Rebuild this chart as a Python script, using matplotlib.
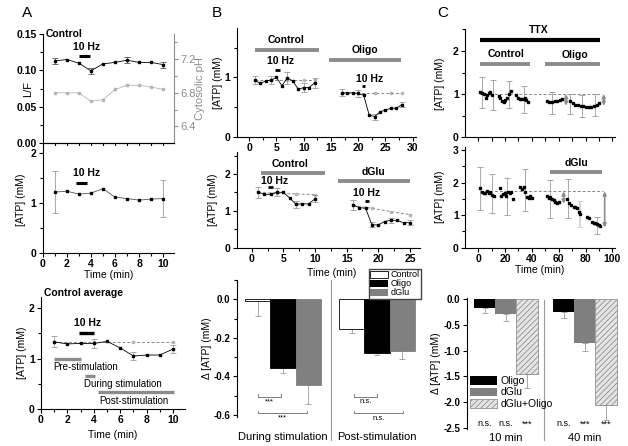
import matplotlib
matplotlib.use("Agg")
import matplotlib.pyplot as plt
from matplotlib.patches import Patch
from matplotlib.ticker import MultipleLocator, NullFormatter

plt.rcParams["font.family"] = ["Liberation Sans", "DejaVu Sans"]
plt.rcParams["font.size"] = 7.5
plt.rcParams["hatch.linewidth"] = 0.5

GRAY = "#8c8c8c"
LGRAY = "#b4b4b4"
EGRAY = "#9a9a9a"

# ---------------- data: panel A ----------------
a_t = [1, 2, 3, 4, 5, 6, 7, 8, 9, 10]
a_lf = [0.113, 0.115, 0.110, 0.0995, 0.109, 0.111, 0.114, 0.111, 0.111, 0.108]
a_lf_err_t = [1, 4, 7, 10]
a_lf_err_v = [0.113, 0.0995, 0.114, 0.108]
a_lf_err = [0.004, 0.004, 0.004, 0.004]
a_ph = [6.80, 6.80, 6.80, 6.70, 6.72, 6.84, 6.89, 6.89, 6.87, 6.84]

a_atp = [1.22, 1.24, 1.18, 1.20, 1.29, 1.12, 1.09, 1.06, 1.08, 1.09]
a_atp_err_t = [1, 10]
a_atp_err_v = [1.22, 1.09]
a_atp_err = [0.42, 0.38]

a_avg = [1.33, 1.29, 1.30, 1.30, 1.34, 1.21, 1.05, 1.07, 1.07, 1.19]
a_avg_err_t = [1, 4, 7, 10]
a_avg_err_v = [1.33, 1.30, 1.05, 1.19]
a_avg_err = [0.11, 0.09, 0.08, 0.08]
a_avg_ref_t = [1, 4, 7, 10]
a_avg_ref = [1.32, 1.32, 1.32, 1.32]

# ---------------- data: panel B ----------------
b1_ctrl_t = [1, 2, 3, 4, 5, 6, 7, 8, 9, 10, 11, 12]
b1_ctrl = [0.955, 0.90, 0.94, 0.955, 1.0, 0.86, 0.995, 0.94, 0.80, 0.83, 0.83, 0.91]
b1_ctrl_ref_t = [1, 4, 7, 10, 12]
b1_ctrl_ref = [0.96, 0.96, 0.96, 0.96, 0.96]
b1_ctrl_err_t = [1, 4, 7, 10, 12]
b1_ctrl_err_v = [0.955, 0.955, 0.995, 0.83, 0.91]
b1_ctrl_err = [0.07, 0.07, 0.10, 0.08, 0.08]

b1_oli_t = [17, 18, 19, 20, 21, 22, 23, 24, 25, 26, 27, 28]
b1_oli = [0.74, 0.74, 0.74, 0.73, 0.70, 0.37, 0.34, 0.42, 0.45, 0.48, 0.48, 0.54]
b1_oli_ref_t = [17, 20, 23, 26, 28]
b1_oli_ref = [0.735, 0.735, 0.735, 0.735, 0.735]
b1_oli_err_t = [17, 20, 23, 28]
b1_oli_err_v = [0.74, 0.73, 0.34, 0.54]
b1_oli_err = [0.06, 0.06, 0.05, 0.04]

b2_ctrl_t = [1, 2, 3, 4, 5, 6, 7, 8, 9, 10]
b2_ctrl = [1.51, 1.45, 1.45, 1.51, 1.50, 1.35, 1.18, 1.19, 1.19, 1.33]
b2_ctrl_ref_t = [1, 4, 7, 10]
b2_ctrl_ref = [1.50, 1.48, 1.46, 1.44]
b2_ctrl_err = [0.15, 0.10, 0.10, 0.10]
b2_ctrl_err_v = [1.51, 1.51, 1.18, 1.33]

b2_glu_t = [16, 17, 18, 19, 20, 21, 22, 23, 24, 25]
b2_glu = [1.16, 1.09, 1.07, 0.62, 0.62, 0.71, 0.75, 0.74, 0.68, 0.68]
b2_glu_ref_t = [16, 19, 22, 25]
b2_glu_ref = [1.15, 1.07, 0.98, 0.90]
b2_glu_err = [0.13, 0.07, 0.07, 0.07]
b2_glu_err_v = [1.16, 0.62, 0.75, 0.68]

b3_ctrl = [-0.01, -0.155]
b3_oli = [-0.355, -0.28]
b3_glu = [-0.445, -0.27]
b3_ctrl_err = [0.075, 0.02]
b3_oli_err = [0.025, 0.01]
b3_glu_err = [0.10, 0.04]
b3_groups = ["During stimulation", "Post-stimulation"]

# ---------------- data: panel C ----------------
c1_t = [1.5, 2.8, 4.5, 5.7, 6.5, 7.8, 9.0, 10.2,
        15.2, 16.4, 17.7, 18.9, 20.1, 21.4, 22.7, 24.6,
        28.4, 29.6, 30.9, 32.1, 33.4, 34.6, 35.8, 37.1,
        51.3, 53.0, 55.0, 57.0, 59.0, 61.0, 62.5,
        68.7, 70.4, 72.4, 74.4, 76.4, 78.4, 80.4, 82.4, 84.3, 86.3, 88.3, 89.8]
c1_v = [1.04, 1.02, 1.00, 0.90, 0.98, 1.02, 1.04, 0.98,
        0.95, 0.90, 0.85, 0.82, 0.87, 0.92, 1.00, 1.08,
        0.97, 0.90, 0.88, 0.89, 0.88, 0.90, 0.87, 0.82,
        0.83, 0.82, 0.82, 0.83, 0.84, 0.86, 0.88,
        0.85, 0.79, 0.75, 0.74, 0.73, 0.72, 0.71, 0.71, 0.71, 0.72, 0.75, 0.80]
c1_err_t = [2.8, 10.7, 22.7, 33.9, 55.0, 68.7, 77.4, 87.3]
c1_err_v = [1.03, 0.985, 0.99, 0.875, 0.795, 0.775, 0.72, 0.75]
c1_err = [0.36, 0.345, 0.32, 0.305, 0.265, 0.225, 0.26, 0.25]
c1_ref = 1.0

c2_t = [1.5, 2.8, 4.0, 5.2, 6.5, 7.8, 9.0, 10.2, 11.5,
        16.4, 17.2, 18.2, 19.7, 20.7, 22.2, 23.4, 24.6, 25.7,
        31.3, 32.6, 33.9, 35.1, 36.3, 37.6, 38.8, 40.1,
        51.3, 52.5, 53.7, 55.0, 56.3, 57.5, 58.7, 60.0,
        66.2, 67.9, 69.4, 71.2, 72.4, 73.7, 74.9, 76.1,
        81.1, 82.4, 84.9, 86.1, 87.3, 88.6, 89.8, 91.0]
c2_v = [1.82, 1.72, 1.67, 1.69, 1.74, 1.67, 1.70, 1.62, 1.58,
        1.82, 1.58, 1.64, 1.67, 1.58, 1.70, 1.67, 1.72, 1.48,
        1.85, 1.79, 1.87, 1.72, 1.56, 1.53, 1.58, 1.54,
        1.58, 1.54, 1.56, 1.51, 1.46, 1.41, 1.38, 1.41,
        1.51, 1.36, 1.31, 1.26, 1.26, 1.21, 1.10, 1.03,
        0.95, 0.90, 0.80, 0.75, 0.77, 0.73, 0.70, 0.67]
c2_err_t = [1.5, 10.2, 21.4, 35.1, 53.7, 66.9, 76.1, 88.6]
c2_err_v = [1.82, 1.655, 1.565, 1.775, 1.49, 1.50, 1.04, 0.675]
c2_err = [0.66, 0.605, 0.565, 0.655, 0.59, 0.60, 0.40, 0.255]
c2_ref = 1.73

c3_oli = [-0.17, -0.24]
c3_glu = [-0.28, -0.85]
c3_both = [-1.45, -2.05]
c3_oli_err = [0.10, 0.13]
c3_glu_err = [0.14, 0.15]
c3_both_err = [0.27, 0.30]
c3_groups = ["10 min", "40 min"]
c3_sig = ["n.s.", "n.s.", "***", "n.s.", "***", "***"]


def px_axes(fig, x0, y0, x1, y1):
    W, H = 628.0, 446.0
    return fig.add_axes([x0 / W, 1 - y1 / H, (x1 - x0) / W, (y1 - y0) / H])


def style(ax):
    ax.spines["top"].set_visible(False)
    ax.spines["right"].set_visible(False)
    for s in ax.spines.values():
        s.set_linewidth(0.8)
    ax.tick_params(which="major", direction="out", length=3, width=0.8, labelsize=7.5, pad=1.5)
    ax.tick_params(which="minor", direction="out", length=2, width=0.8)


def errs(ax, t, v, e, color=EGRAY, lw=0.6):
    ax.errorbar(t, v, yerr=e, fmt="none", ecolor=color, elinewidth=lw, capsize=2, capthick=0.6, zorder=2)


def trace(ax, t, v, ms=2.0):
    ax.plot(t, v, color="black", lw=0.6, marker="s", ms=ms, zorder=3)


def ref(ax, t, v):
    ax.plot(t, v, color="#888888", lw=0.7, ls=(0, (3, 2)), marker="s", ms=1.8, mfc=LGRAY, mec=LGRAY, zorder=2)


def hbar(ax, x0, x1, y, color=GRAY, lw=2.8):
    ax.plot([x0, x1], [y, y], color=color, lw=lw, solid_capstyle="butt", clip_on=False)


fig = plt.figure(figsize=(6.28, 4.46), dpi=100)

# ---------------- A top ----------------
ax = px_axes(fig, 42.7, 34, 174, 143.3)
style(ax)
ax.set_xlim(0, 10.9)
ax.set_ylim(0, 0.15)
ax.xaxis.set_major_locator(MultipleLocator(1))
ax.xaxis.set_major_formatter(NullFormatter())
ax.yaxis.set_major_locator(MultipleLocator(0.05))
ax.yaxis.set_minor_locator(MultipleLocator(0.025))
ax.yaxis.set_major_formatter(lambda v, p: f"{v:.2f}")
trace(ax, a_t, a_lf)
errs(ax, a_lf_err_t, a_lf_err_v, a_lf_err, color="#555555")
ax.set_ylabel("L/F", fontsize=8)
ax.yaxis.set_label_coords(-0.074, 0.5)
ax.text(0.25, 0.15, "Control", fontweight="bold", va="center", ha="left")
ax.text(3.64, 0.1315, "10 Hz", fontweight="bold", ha="center", va="center")
hbar(ax, 3.0, 3.9, 0.120, color="black", lw=2.2)
ax2 = ax.twinx()
ax2.set_ylim(6.2, 7.5)
ax2.spines["top"].set_visible(False)
ax2.spines["left"].set_visible(False)
ax2.spines["right"].set_color(GRAY)
ax2.spines["right"].set_linewidth(0.8)
ax2.set_yticks([6.4, 6.8, 7.2])
ax2.set_yticks([6.6, 7.0, 7.4], minor=True)
ax2.tick_params(which="major", direction="out", length=3, width=0.8, labelsize=8, colors=GRAY, pad=1.5)
ax2.tick_params(which="minor", direction="out", length=2, width=0.8, colors=GRAY)
ax2.plot(a_t, a_ph, color=LGRAY, lw=0.6, marker="s", ms=1.8)
ax2.set_ylabel("Cytosolic pH", color=GRAY, fontsize=8)
ax2.yaxis.set_label_coords(1.16, 0.5)
fig.text(27 / 628, 1 - 13 / 446, "A", fontsize=11, ha="center", va="center")

# ---------------- A middle ----------------
ax = px_axes(fig, 42.7, 146, 174, 252.7)
style(ax)
ax.set_xlim(0, 10.9)
ax.set_ylim(0, 2.15)
ax.xaxis.set_major_locator(MultipleLocator(2))
ax.xaxis.set_minor_locator(MultipleLocator(1))
ax.yaxis.set_major_locator(MultipleLocator(1))
ax.yaxis.set_minor_locator(MultipleLocator(0.5))
errs(ax, a_atp_err_t, a_atp_err_v, a_atp_err)
ax.plot(a_t, a_atp, color="#555555", lw=0.6, marker="s", ms=1.8, mfc="black", mec="black", zorder=3)
ax.text(3.64, 1.6, "10 Hz", fontweight="bold", ha="center", va="center")
hbar(ax, 2.8, 3.7, 1.41, color="black", lw=2.2)
ax.set_ylabel("[ATP] (mM)")
ax.yaxis.set_label_coords(-0.127, 0.5)
ax.set_xlabel("Time (min)")
ax.xaxis.set_label_coords(0.5, -0.162)
ax.xaxis.label.set_va("top")

# ---------------- A bottom ----------------
ax = px_axes(fig, 41, 297, 185, 409)
style(ax)
ax.set_xlim(0, 10.9)
ax.set_ylim(0, 2.22)
ax.xaxis.set_major_locator(MultipleLocator(2))
ax.xaxis.set_minor_locator(MultipleLocator(1))
ax.yaxis.set_major_locator(MultipleLocator(1))
ax.yaxis.set_minor_locator(MultipleLocator(0.5))
ref(ax, a_avg_ref_t, a_avg_ref)
errs(ax, a_avg_err_t, a_avg_err_v, a_avg_err)
trace(ax, a_t, a_avg)
ax.text(0.25, 2.29, "Control average", fontweight="bold", va="center", ha="left", clip_on=False)
ax.text(3.5, 1.70, "10 Hz", fontweight="bold", ha="center", va="center")
hbar(ax, 2.88, 4.0, 1.51, color="black", lw=2.4)
hbar(ax, 1.0, 3.0, 1.0, lw=2.4)
ax.text(0.95, 0.84, "Pre-stimulation", ha="left", va="center", fontsize=7)
hbar(ax, 3.3, 4.1, 0.66, lw=2.4)
ax.text(3.25, 0.50, "During stimulation", ha="left", va="center", fontsize=7)
hbar(ax, 4.3, 10.1, 0.33, lw=2.4)
ax.text(7.05, 0.16, "Post-stimulation", ha="center", va="center", fontsize=7)
ax.set_ylabel("[ATP] (mM)")
ax.yaxis.set_label_coords(-0.097, 0.5)
ax.set_xlabel("Time (min)")
ax.xaxis.set_label_coords(0.5, -0.1875)
ax.xaxis.label.set_va("top")

# ---------------- B top ----------------
ax = px_axes(fig, 236.7, 28.3, 416, 136.7)
style(ax)
ax.set_xlim(-2.3, 30.6)
ax.set_ylim(0, 1.83)
ax.xaxis.set_major_locator(MultipleLocator(5))
ax.xaxis.set_minor_locator(MultipleLocator(2.5))
ax.yaxis.set_major_locator(MultipleLocator(1))
ax.yaxis.set_minor_locator(MultipleLocator(0.5))
ref(ax, b1_ctrl_ref_t, b1_ctrl_ref)
ref(ax, b1_oli_ref_t, b1_oli_ref)
errs(ax, b1_ctrl_err_t, b1_ctrl_err_v, b1_ctrl_err)
errs(ax, b1_oli_err_t, b1_oli_err_v, b1_oli_err)
trace(ax, b1_ctrl_t, b1_ctrl, ms=1.8)
trace(ax, b1_oli_t, b1_oli, ms=1.8)
hbar(ax, 1.03, 12.8, 1.47)
ax.text(6.75, 1.63, "Control", fontweight="bold", ha="center", va="center")
hbar(ax, 14.6, 27.8, 1.30)
ax.text(21.2, 1.46, "Oligo", fontweight="bold", ha="center", va="center")
ax.text(5.67, 1.27, "10 Hz", fontweight="bold", ha="center", va="center")
hbar(ax, 4.8, 5.7, 1.12, color="black", lw=2)
ax.text(22.1, 0.97, "10 Hz", fontweight="bold", ha="center", va="center")
hbar(ax, 20.6, 21.3, 0.85, color="black", lw=2)
ax.set_ylabel("[ATP] (mM)")
ax.yaxis.set_label_coords(-0.075, 0.5)
fig.text(217 / 628, 1 - 13 / 446, "B", fontsize=11, ha="center", va="center")

# ---------------- B middle ----------------
ax = px_axes(fig, 236.7, 152, 420, 247.7)
style(ax)
ax.set_xlim(-2.38, 26.6)
ax.set_ylim(0, 2.6)
ax.xaxis.set_major_locator(MultipleLocator(5))
ax.xaxis.set_minor_locator(MultipleLocator(2.5))
ax.yaxis.set_major_locator(MultipleLocator(1))
ax.yaxis.set_minor_locator(MultipleLocator(0.5))
ref(ax, b2_ctrl_ref_t, b2_ctrl_ref)
ref(ax, b2_glu_ref_t, b2_glu_ref)
errs(ax, b2_ctrl_ref_t, b2_ctrl_err_v, b2_ctrl_err)
errs(ax, b2_glu_ref_t, b2_glu_err_v, b2_glu_err)
trace(ax, b2_ctrl_t, b2_ctrl, ms=1.8)
trace(ax, b2_glu_t, b2_glu, ms=1.8)
hbar(ax, 1.42, 11.6, 2.02)
ax.text(6.05, 2.27, "Control", fontweight="bold", ha="center", va="center")
hbar(ax, 13.7, 25.0, 1.82)
ax.text(19.2, 2.06, "dGlu", fontweight="bold", ha="center", va="center")
ax.text(3.68, 1.81, "10 Hz", fontweight="bold", ha="center", va="center")
hbar(ax, 2.6, 3.4, 1.66, color="black", lw=2)
ax.text(18.1, 1.49, "10 Hz", fontweight="bold", ha="center", va="center")
hbar(ax, 17.9, 18.6, 1.27, color="black", lw=2)
ax.set_ylabel("[ATP] (mM)")
ax.yaxis.set_label_coords(-0.10, 0.5)
ax.set_xlabel("Time (min)")
ax.xaxis.set_label_coords(0.52, -0.209)
ax.xaxis.label.set_va("top")

# ---------------- B bottom (bars) ----------------
ax = px_axes(fig, 236.7, 280, 420, 417)
style(ax)
ax.spines["bottom"].set_visible(False)
ax.set_xlim(0.18, 7.4)
ax.set_ylim(-0.61, 0.1)
ax.yaxis.set_major_locator(MultipleLocator(0.2))
ax.yaxis.set_minor_locator(MultipleLocator(0.1))
ax.yaxis.set_major_formatter(lambda v, p: f"{v:.1f}")
ax.tick_params(axis="y", labelsize=7)
b3_pos = [1.0, 4.71]
for k, (vals, err, fc) in enumerate([(b3_ctrl, b3_ctrl_err, "white"),
                                      (b3_oli, b3_oli_err, "black"),
                                      (b3_glu, b3_glu_err, "#808080")]):
    xs = [p + k for p in b3_pos]
    ax.bar(xs, vals, width=1.0, color=fc, edgecolor="black" if fc == "white" else fc,
           linewidth=0.6, zorder=2)
    ax.errorbar(xs, vals, yerr=[err, [0, 0]], fmt="none", ecolor=EGRAY, elinewidth=0.6,
                capsize=2, capthick=0.6, zorder=1)
ax.axvline(3.88, ymin=-0.168, ymax=1, color=EGRAY, lw=0.8, clip_on=False)
ax.set_xticks([2.0, 5.71])
ax.set_xticklabels(b3_groups, fontsize=8)
ax.tick_params(axis="x", length=0, pad=11)
for x0, x1, yb, yt, lab in [(1.0, 1.93, -0.505, -0.493, "***"), (1.0, 2.96, -0.591, -0.579, "***"),
                            (4.8, 5.69, -0.505, -0.493, "n.s."), (4.8, 6.74, -0.591, -0.579, "n.s.")]:
    ax.plot([x0, x0, x1, x1], [yt, yb, yb, yt], color="#666666", lw=0.6, clip_on=False)
    ax.text((x0 + x1) / 2, yb - 0.025, lab, ha="center", va="center", fontsize=5.5, clip_on=False)
ax.set_ylabel("\u0394 [ATP] (mM)")
ax.yaxis.set_label_coords(-0.135, 0.5)
ax.legend(handles=[Patch(facecolor="white", edgecolor="black", lw=0.6, label="Control"),
                   Patch(facecolor="black", label="Oligo"),
                   Patch(facecolor="#808080", label="dGlu")],
          loc="upper right", bbox_to_anchor=(421 / 628, 1 - 269 / 446),
          bbox_transform=fig.transFigure, fontsize=6.5, frameon=True, fancybox=False,
          edgecolor="#444444", framealpha=1, handlelength=2.0, handleheight=0.75,
          labelspacing=0.0, borderpad=0.15, handletextpad=0.25, borderaxespad=0)

# ---------------- C top ----------------
ax = px_axes(fig, 465, 29.3, 615, 137.3)
style(ax)
ax.set_xlim(-9.9, 102)
ax.set_ylim(0, 2.5)
ax.xaxis.set_major_locator(MultipleLocator(10))
ax.xaxis.set_major_formatter(NullFormatter())
ax.yaxis.set_major_locator(MultipleLocator(1))
ax.yaxis.set_minor_locator(MultipleLocator(0.5))
ax.plot([1.5, 92], [c1_ref, c1_ref], color="#888888", lw=0.7, ls=(0, (3, 2)), zorder=1)
errs(ax, c1_err_t, c1_err_v, c1_err)
ax.plot(c1_t, c1_v, ls="none", marker="s", ms=1.7, color="black", zorder=3)
for xa in [65.5, 93.6]:
    ax.annotate("", xy=(xa, 0.73), xytext=(xa, c1_ref),
                arrowprops=dict(arrowstyle="<|-|>", color=GRAY, lw=1.2, mutation_scale=5, shrinkA=0, shrinkB=0))
hbar(ax, 1.3, 90.8, 2.26, color="black", lw=3)
ax.text(44.8, 2.49, "TTX", fontweight="bold", ha="center", va="center", clip_on=False)
hbar(ax, 1.3, 38.6, 1.70)
ax.text(20.4, 1.92, "Control", fontweight="bold", ha="center", va="center")
hbar(ax, 49.8, 90.8, 1.70)
ax.text(72.2, 1.90, "Oligo", fontweight="bold", ha="center", va="center")
ax.set_ylabel("[ATP] (mM)")
ax.yaxis.set_label_coords(-0.133, 0.5)
fig.text(443 / 628, 1 - 13 / 446, "C", fontsize=11, ha="center", va="center")

# ---------------- C middle ----------------
ax = px_axes(fig, 465, 146.7, 615, 247.7)
style(ax)
ax.set_xlim(-9.9, 102)
ax.set_ylim(0, 3.1)
ax.xaxis.set_major_locator(MultipleLocator(20))
ax.xaxis.set_minor_locator(MultipleLocator(10))
ax.yaxis.set_major_locator(MultipleLocator(1))
ax.yaxis.set_minor_locator(MultipleLocator(0.5))
ax.plot([1.5, 93], [c2_ref, c2_ref], color="#888888", lw=0.7, ls=(0, (3, 2)), zorder=1)
errs(ax, c2_err_t[:6] + c2_err_t[7:], c2_err_v[:6] + c2_err_v[7:], c2_err[:6] + c2_err[7:])
errs(ax, c2_err_t[6:7], c2_err_v[6:7], c2_err[6:7], color="#cfcfcf", lw=1.2)
ax.plot(c2_t, c2_v, ls="none", marker="s", ms=1.7, color="black", zorder=3)
for xa, yb in [(63.7, 1.35), (94.3, 0.62)]:
    ax.annotate("", xy=(xa, yb), xytext=(xa, c2_ref),
                arrowprops=dict(arrowstyle="<|-|>", color=GRAY, lw=1.2, mutation_scale=5, shrinkA=0, shrinkB=0))
hbar(ax, 53.5, 92, 2.31)
ax.text(73.4, 2.59, "dGlu", fontweight="bold", ha="center", va="center")
ax.set_ylabel("[ATP] (mM)")
ax.yaxis.set_label_coords(-0.133, 0.5)
ax.set_xlabel("Time (min)")
ax.xaxis.set_label_coords(0.5, -0.171)
ax.xaxis.label.set_va("top")

# ---------------- C bottom (bars) ----------------
ax = px_axes(fig, 466.7, 298.3, 620, 428.9)
style(ax)
ax.spines["bottom"].set_visible(False)
ax.set_xlim(0.16, 7.39)
ax.set_ylim(-2.52, 0.02)
ax.yaxis.set_major_locator(MultipleLocator(0.5))
ax.yaxis.set_major_formatter(lambda v, p: f"{v:.1f}")
ax.tick_params(axis="y", labelsize=7)
c3_pos = [1.0, 4.73]
c3_series = [(c3_oli, c3_oli_err, dict(color="black")),
             (c3_glu, c3_glu_err, dict(color="#7f7f7f")),
             (c3_both, c3_both_err, dict(facecolor="#e4e4e4", edgecolor="#808080", hatch="//////"))]
for k, (vals, err, kw) in enumerate(c3_series):
    xs = [p + k for p in c3_pos]
    ax.bar(xs, vals, width=1.0, linewidth=0.5, zorder=2, **kw)
    ax.errorbar(xs, vals, yerr=[err, [0, 0]], fmt="none", ecolor=EGRAY, elinewidth=0.6,
                capsize=2, capthick=0.6, zorder=1)
ax.axvline(3.82, ymin=-0.085, ymax=0.99, color=EGRAY, lw=0.8, clip_on=False)
sig_x = [c3_pos[0], c3_pos[0] + 1, c3_pos[0] + 2, c3_pos[1], c3_pos[1] + 1, c3_pos[1] + 2]
for x, s in zip(sig_x, c3_sig):
    ax.text(x, -2.42, s, ha="center", va="center", fontsize=6.5)
ax.set_xticks([2.0, 5.73])
ax.set_xticklabels(c3_groups, fontsize=8)
ax.tick_params(axis="x", length=0, pad=3)
ax.set_ylabel("\u0394 [ATP] (mM)")
ax.yaxis.set_label_coords(-0.165, 0.5)
ax.legend(handles=[Patch(facecolor="black", label="Oligo"),
                   Patch(facecolor="#7f7f7f", label="dGlu"),
                   Patch(facecolor="#e4e4e4", edgecolor="#808080", hatch="//////", lw=0.5, label="dGlu+Oligo")],
          loc="lower left", bbox_to_anchor=(470 / 628, 1 - 409 / 446),
          bbox_transform=fig.transFigure, fontsize=7.5, frameon=False,
          handlelength=2.6, handleheight=0.9, labelspacing=0.15, borderpad=0,
          handletextpad=0.3, borderaxespad=0)

# bold tick labels throughout, like the original (not the gray pH axis)
for a in fig.axes:
    if a is ax2:
        continue
    for lab in a.get_xticklabels() + a.get_yticklabels():
        if lab.get_text() not in b3_groups + c3_groups:
            lab.set_fontweight("bold")

fig.savefig("out.png", dpi=100)
